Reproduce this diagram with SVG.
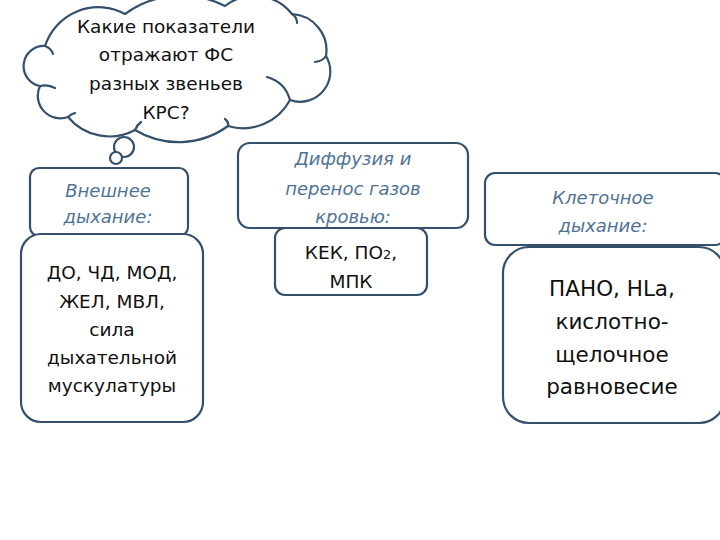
<svg xmlns="http://www.w3.org/2000/svg" width="720" height="540" viewBox="0 0 720 540">
<style>
.shape{fill:#fff;stroke:#35506b;stroke-width:2.2}
.t{font-family:"DejaVu Sans","Noto Sans",sans-serif;font-size:18.5px;fill:#111;text-anchor:middle}
.big{font-size:21.5px}
.h{font-family:"DejaVu Sans","Noto Sans",sans-serif;font-style:italic;font-size:18px;fill:#4f7396;text-anchor:middle}
.tick{fill:none;stroke:#35506b;stroke-width:2.2;stroke-linecap:round}
</style>
<rect width="720" height="540" fill="#fff"/>
<g id="cloud">
<path class="shape" d="M45,46 A56,56 0 0 1 125,14 A96,96 0 0 1 225,6 A48,48 0 0 1 292,14 A36.4,36.4 0 0 1 326,56 A30.2,30.2 0 0 1 290,100 A53,53 0 0 1 228,126 A84,84 0 0 1 135,130 A54,54 0 0 1 68,117 A22.6,22.6 0 0 1 40,86 A20.2,20.2 0 0 1 45,46 Z"/>
<path class="tick" d="M45,46 q6,2 8,8 M40,86 q8,-2 15,2 M68,117 q3,-3 7,-4 M135,130 q2,-5 6,-8 M228,126 q1,-4 -3,-7 M290,100 q-5,-18 -23,-23 M326,56 q-3,5 -11,6 M292,14 q5,3 5,9"/>
<circle class="shape" cx="124" cy="147" r="10"/>
<circle class="shape" cx="116" cy="158" r="6"/>
<text class="t"><tspan x="166" y="33">Какие показатели</tspan><tspan x="166" y="61">отражают ФС</tspan><tspan x="166" y="90">разных звеньев</tspan><tspan x="166" y="119">КРС?</tspan></text>
</g>
<g id="box1-head">
<rect class="shape" x="30" y="168" width="158" height="68" rx="9"/>
<text class="h"><tspan x="108" y="197">Внешнее</tspan><tspan x="108" y="223">дыхание:</tspan></text>
</g>
<g id="box1-body">
<rect class="shape" x="21" y="234" width="182" height="188" rx="20"/>
<text class="t" font-size="19.5"><tspan x="112" y="279">ДО, ЧД, МОД,</tspan><tspan x="112" y="308">ЖЕЛ, МВЛ,</tspan><tspan x="112" y="336">сила</tspan><tspan x="112" y="364">дыхательной</tspan><tspan x="112" y="392">мускулатуры</tspan></text>
</g>
<g id="box2-head">
<rect class="shape" x="238" y="143" width="230" height="85" rx="12"/>
<text class="h"><tspan x="353" y="165">Диффузия и</tspan><tspan x="353" y="195">перенос газов</tspan><tspan x="353" y="223">кровью:</tspan></text>
</g>
<g id="box2-body">
<rect class="shape" x="275" y="228" width="152" height="67" rx="10"/>
<text class="t"><tspan x="351" y="259">КЕК, ПО<tspan font-size="13">2</tspan>,</tspan><tspan x="351" y="288">МПК</tspan></text>
</g>
<g id="box3-head">
<rect class="shape" x="485" y="173" width="240" height="72" rx="10"/>
<text class="h"><tspan x="603" y="204">Клеточное</tspan><tspan x="603" y="232">дыхание:</tspan></text>
</g>
<g id="box3-body">
<rect class="shape" x="503" y="247" width="222" height="176" rx="26"/>
<text class="t big"><tspan x="612" y="296">ПАНО, HLa,</tspan><tspan x="612" y="329">кислотно-</tspan><tspan x="612" y="362">щелочное</tspan><tspan x="612" y="394">равновесие</tspan></text>
</g>
<g id="connectors"></g>
</svg>
